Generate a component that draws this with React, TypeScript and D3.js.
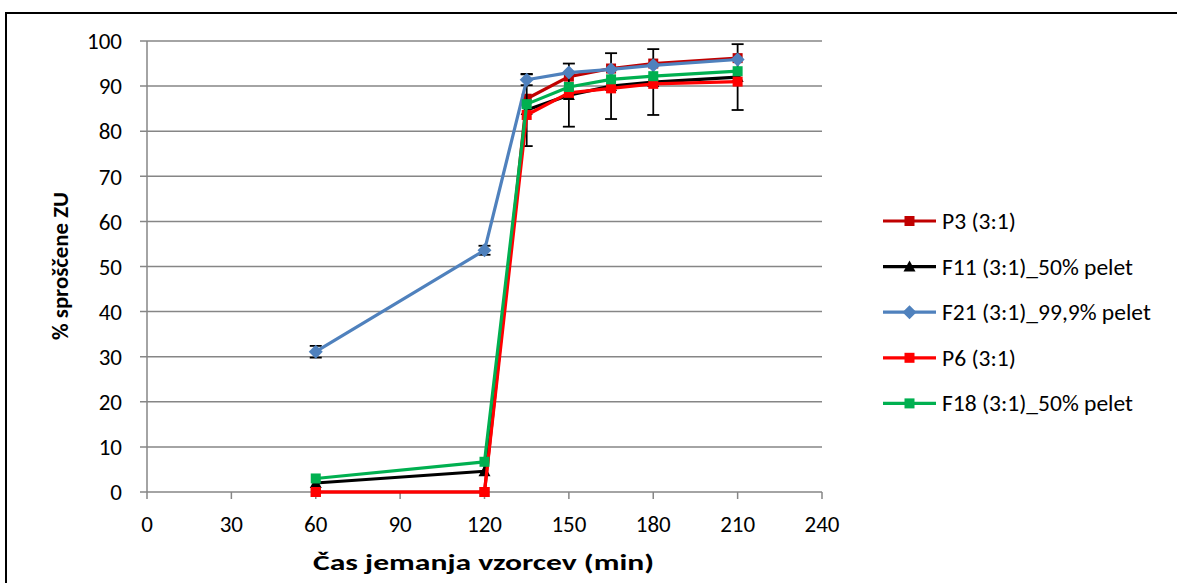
import React from "react";
import * as d3 from "d3";

const times = [60, 120, 135, 150, 165, 180, 210];
const seriesNames = ["P3 (3:1)", "F11 (3:1)_50% pelet", "F21 (3:1)_99,9% pelet", "P6 (3:1)", "F18 (3:1)_50% pelet"];
const seriesColors = ["#C00000", "#000000", "#4F81BD", "#FF0000", "#00B050"];
const seriesMarkers = ["square", "triangle", "diamond", "square", "square"];
const p3 = [0, 0, 87.2, 92.1, 93.9, 95.0, 96.2];
const f11 = [2.0, 4.6, 84.7, 88.0, 90.0, 90.9, 92.0];
const f21 = [31.1, 53.6, 91.4, 93.0, 93.7, 94.6, 95.9];
const p6 = [0, 0, 83.6, 88.5, 89.5, 90.5, 91.0];
const f18 = [3.0, 6.7, 86.0, 89.8, 91.5, 92.2, 93.3];
const f11Err = [0, 0, 8.0, 7.0, 7.3, 7.3, 7.3];
const f21Err = [1.3, 1.0, 1.2, 0, 0, 0, 0];
const xTicks = [0, 30, 60, 90, 120, 150, 180, 210, 240];
const yTicks = [0, 10, 20, 30, 40, 50, 60, 70, 80, 90, 100];

const allValues = [p3, f11, f21, p6, f18];
const allErrors = [null, f11Err, f21Err, null, null];

function Marker({ type, x, y, color }: { type: string; x: number; y: number; color: string }) {
  if (type === "square") return <rect x={x - 5} y={y - 5} width={10} height={10} fill={color} />;
  if (type === "triangle") return <path d={`M${x},${y - 6}L${x + 6},${y + 5}L${x - 6},${y + 5}Z`} fill={color} />;
  return <path d={`M${x},${y - 7}L${x + 7},${y}L${x},${y + 7}L${x - 7},${y}Z`} fill={color} />;
}

export default function App() {
  const W = 1177, H = 583;
  const x = d3.scaleLinear().domain([0, 240]).range([147, 822]);
  const y = d3.scaleLinear().domain([0, 100]).range([492, 41]);
  const line = d3.line<number>().x((_, i) => x(times[i])).y((v) => y(v));
  const font = "Carlito, Lato, 'Liberation Sans', sans-serif";
  const grid = "#868686";
  return (
    <svg width={W} height={H} style={{ position: "absolute", left: 0, top: 0 }} fontFamily={font}>
      <rect x={0} y={0} width={W} height={H} fill="#fff" />
      <rect x={6} y={13} width={W + 10} height={H + 10} fill="none" stroke="#000" strokeWidth={2} />
      {yTicks.map((t) => (
        <g key={"y" + t}>
          <line x1={140} x2={822} y1={y(t)} y2={y(t)} stroke={grid} strokeWidth={1.5} />
          <text x={122} y={y(t)} dy="0.36em" textAnchor="end" fontSize={23} fill="#000">{t}</text>
        </g>
      ))}
      <line x1={147} x2={147} y1={41} y2={492} stroke={grid} strokeWidth={1.5} />
      {xTicks.map((t) => (
        <g key={"x" + t}>
          <line x1={x(t)} x2={x(t)} y1={492} y2={499} stroke={grid} strokeWidth={1.5} />
          <text x={x(t)} y={524} dy="0.36em" textAnchor="middle" fontSize={23} fill="#000">{t}</text>
        </g>
      ))}
      <text x={313} y={570} fontSize={22} fontWeight="bold" textLength={341} lengthAdjust="spacingAndGlyphs">Čas jemanja vzorcev (min)</text>
      <text transform={`translate(68,340) rotate(-90)`} fontSize={22} fontWeight="bold" textLength={148} lengthAdjust="spacingAndGlyphs">% sproščene ZU</text>
      {allValues.map((vals, si) => (
        <g key={"s" + si}>
          {allErrors[si] && allErrors[si]!.map((e, i) =>
            e > 0 ? (
              <g key={"e" + i} stroke="#000" strokeWidth={1.8}>
                <line x1={x(times[i])} x2={x(times[i])} y1={y(vals[i] - e)} y2={y(vals[i] + e)} />
                <line x1={x(times[i]) - 6} x2={x(times[i]) + 6} y1={y(vals[i] - e)} y2={y(vals[i] - e)} />
                <line x1={x(times[i]) - 6} x2={x(times[i]) + 6} y1={y(vals[i] + e)} y2={y(vals[i] + e)} />
              </g>
            ) : null
          )}
          <path d={line(vals) || ""} fill="none" stroke={seriesColors[si]} strokeWidth={3.2} strokeLinejoin="round" />
          {vals.map((v, i) => (
            <Marker key={i} type={seriesMarkers[si]} x={x(times[i])} y={y(v)} color={seriesColors[si]} />
          ))}
        </g>
      ))}
      {seriesNames.map((n, i) => {
        const ly = 221 + i * 45.6;
        return (
          <g key={"l" + i}>
            <line x1={883} x2={936} y1={ly} y2={ly} stroke={seriesColors[i]} strokeWidth={3.2} />
            <Marker type={seriesMarkers[i]} x={909.5} y={ly} color={seriesColors[i]} />
            <g transform={`translate(942,${ly}) scale(1.07,1)`}>
              <text x={0} y={0} dy="0.36em" fontSize={22} fill="#000">{n}</text>
            </g>
          </g>
        );
      })}
    </svg>
  );
}
